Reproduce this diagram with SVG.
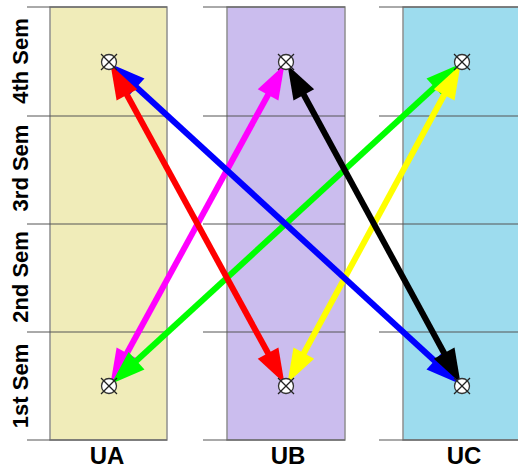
<svg xmlns="http://www.w3.org/2000/svg" width="518" height="470" viewBox="0 0 518 470">
<style>
.col{stroke:#8f8f8f;stroke-width:1.5}
.grid{stroke:#555;stroke-width:1}
.arr{fill:none;stroke-width:6}
.nc{fill:#fff;stroke:#333;stroke-width:1.3}
.nx{stroke:#222;stroke-width:1.3}
</style>
<defs>
<marker id="hr" markerUnits="userSpaceOnUse" markerWidth="40" markerHeight="40" refX="2" refY="0" viewBox="-2 -12 34 24" orient="auto-start-reverse" overflow="visible"><path d="M0,-10 L29,0 L0,10 z" fill="#ff0000"/></marker>
<marker id="hb" markerUnits="userSpaceOnUse" markerWidth="40" markerHeight="40" refX="2" refY="0" viewBox="-2 -12 34 24" orient="auto-start-reverse" overflow="visible"><path d="M0,-10 L29,0 L0,10 z" fill="#0000ff"/></marker>
<marker id="hm" markerUnits="userSpaceOnUse" markerWidth="40" markerHeight="40" refX="2" refY="0" viewBox="-2 -12 34 24" orient="auto-start-reverse" overflow="visible"><path d="M0,-10 L29,0 L0,10 z" fill="#ff00ff"/></marker>
<marker id="hg" markerUnits="userSpaceOnUse" markerWidth="40" markerHeight="40" refX="2" refY="0" viewBox="-2 -12 34 24" orient="auto-start-reverse" overflow="visible"><path d="M0,-10 L29,0 L0,10 z" fill="#00ff00"/></marker>
<marker id="hk" markerUnits="userSpaceOnUse" markerWidth="40" markerHeight="40" refX="2" refY="0" viewBox="-2 -12 34 24" orient="auto-start-reverse" overflow="visible"><path d="M0,-10 L29,0 L0,10 z" fill="#000000"/></marker>
<marker id="hy" markerUnits="userSpaceOnUse" markerWidth="40" markerHeight="40" refX="2" refY="0" viewBox="-2 -12 34 24" orient="auto-start-reverse" overflow="visible"><path d="M0,-10 L29,0 L0,10 z" fill="#ffff00"/></marker>
<g id="node">
<circle r="7.5" class="nc"/>
<line x1="-8" y1="-8" x2="8" y2="8" class="nx"/>
<line x1="-8" y1="8" x2="8" y2="-8" class="nx"/>
</g>
</defs>

<g id="columns">
<rect x="50" y="7" width="117" height="433" fill="#f0ecb9" class="col"/>
<rect x="227" y="7" width="118" height="433" fill="#cbbdee" class="col"/>
<rect x="403" y="7" width="120" height="433" fill="#9ddcee" class="col"/>
</g>

<g id="grid">
<line x1="27" y1="7" x2="167" y2="7" class="grid" stroke="#aaa"/>
<line x1="27" y1="116" x2="167" y2="116" class="grid"/>
<line x1="27" y1="224" x2="167" y2="224" class="grid"/>
<line x1="27" y1="332" x2="167" y2="332" class="grid"/>
<line x1="27" y1="440" x2="167" y2="440" class="grid" stroke="#aaa"/>
<line x1="203" y1="7" x2="345" y2="7" class="grid" stroke="#aaa"/>
<line x1="203" y1="116" x2="345" y2="116" class="grid"/>
<line x1="203" y1="224" x2="345" y2="224" class="grid"/>
<line x1="203" y1="332" x2="345" y2="332" class="grid"/>
<line x1="203" y1="440" x2="345" y2="440" class="grid" stroke="#aaa"/>
<line x1="379" y1="7" x2="518" y2="7" class="grid" stroke="#aaa"/>
<line x1="379" y1="116" x2="518" y2="116" class="grid"/>
<line x1="379" y1="224" x2="518" y2="224" class="grid"/>
<line x1="379" y1="332" x2="518" y2="332" class="grid"/>
<line x1="379" y1="440" x2="518" y2="440" class="grid" stroke="#aaa"/>
</g>

<g id="row-labels" font-family="Liberation Sans, Arial, sans-serif" font-weight="bold" font-size="22" fill="#000" text-anchor="middle">
<text transform="translate(28,61) rotate(-90)">4th Sem</text>
<text transform="translate(28,168) rotate(-90)">3rd Sem</text>
<text transform="translate(28,277) rotate(-90)">2nd Sem</text>
<text transform="translate(28,386) rotate(-90)">1st Sem</text>
</g>

<g id="col-labels" font-family="Liberation Sans, Arial, sans-serif" font-weight="bold" font-size="24" fill="#000" text-anchor="middle">
<text x="107" y="464">UA</text>
<text x="288" y="464">UB</text>
<text x="464" y="464">UC</text>
</g>

<g id="connectors">
<line x1="125.8" y1="355.3" x2="269.2" y2="92.7" class="arr" stroke="#ff00ff" marker-start="url(#hm)" marker-end="url(#hm)"/>
<line x1="134.8" y1="362.3" x2="436.2" y2="85.7" class="arr" stroke="#00ff00" marker-start="url(#hg)" marker-end="url(#hg)"/>
<line x1="302.7" y1="355.2" x2="445.3" y2="92.8" class="arr" stroke="#ffff00" marker-start="url(#hy)" marker-end="url(#hy)"/>
<line x1="134.8" y1="85.7" x2="436.2" y2="362.3" class="arr" stroke="#0000ff" marker-start="url(#hb)" marker-end="url(#hb)"/>
<line x1="125.8" y1="92.7" x2="269.2" y2="355.3" class="arr" stroke="#ff0000" marker-start="url(#hr)" marker-end="url(#hr)"/>
<line x1="302.7" y1="92.8" x2="445.3" y2="355.2" class="arr" stroke="#000000" marker-start="url(#hk)" marker-end="url(#hk)"/>
</g>

<g id="UA-4th"><use href="#node" x="109" y="62"/></g>
<g id="UA-1st"><use href="#node" x="109" y="386"/></g>
<g id="UB-4th"><use href="#node" x="286" y="62"/></g>
<g id="UB-1st"><use href="#node" x="286" y="386"/></g>
<g id="UC-4th"><use href="#node" x="462" y="62"/></g>
<g id="UC-1st"><use href="#node" x="462" y="386"/></g>
</svg>
